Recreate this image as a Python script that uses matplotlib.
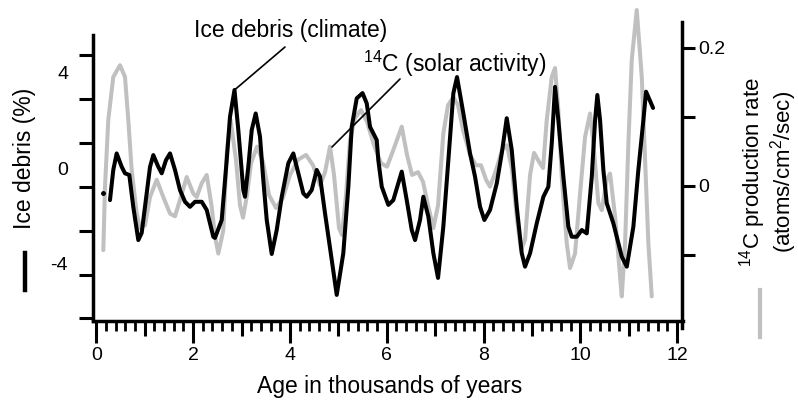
import matplotlib
matplotlib.use("Agg")
import matplotlib.pyplot as plt
from matplotlib.lines import Line2D
from matplotlib.ticker import FixedLocator, FuncFormatter

plt.rcParams['font.family'] = ['Liberation Sans', 'DejaVu Sans']
plt.rcParams['mathtext.fontset'] = 'custom'
plt.rcParams['mathtext.rm'] = 'Liberation Sans'
plt.rcParams['mathtext.it'] = 'Liberation Sans:italic'
plt.rcParams['axes.unicode_minus'] = False

# Ice-rafted debris (%), age in thousands of years
debris_age = [0.283, 0.351, 0.421, 0.525, 0.593, 0.682, 0.764, 0.868, 0.938, 1.006,
              1.110, 1.178, 1.281, 1.351, 1.440, 1.523, 1.626, 1.729, 1.833, 1.936,
              2.039, 2.178, 2.281, 2.417, 2.452, 2.591, 2.694, 2.762, 2.855, 2.934,
              3.037, 3.072, 3.140, 3.211, 3.293, 3.382, 3.450, 3.521, 3.624, 3.727,
              3.831, 3.967, 4.070, 4.174, 4.277, 4.347, 4.450, 4.554, 4.622, 4.725,
              4.864, 4.967, 5.103, 5.207, 5.277, 5.380, 5.500, 5.587, 5.655, 5.793,
              5.826, 5.897, 6.033, 6.136, 6.310, 6.413, 6.517, 6.585, 6.688, 6.756,
              6.860, 6.963, 7.060, 7.169, 7.273, 7.376, 7.452, 7.583, 7.721, 7.824,
              7.928, 8.017, 8.134, 8.273, 8.376, 8.479, 8.583, 8.686, 8.789, 8.857,
              8.961, 9.099, 9.236, 9.339, 9.409, 9.477, 9.545, 9.649, 9.752, 9.822,
              9.926, 10.029, 10.132, 10.236, 10.304, 10.351, 10.407, 10.475, 10.545, 10.682,
              10.855, 10.959, 11.095, 11.198, 11.302, 11.357, 11.502]
debris_pct = [-1.34, -0.08, 0.61, 0.05, -0.22, -0.29, -1.62, -3.01, -2.71, -1.62,
              0.05, 0.54, 0.05, -0.22, 0.33, 0.61, -0.08, -0.92, -1.41, -1.62,
              -1.41, -1.41, -1.75, -2.87, -2.92, -2.17, 0.33, 2.14, 3.26, 1.59,
              -0.92, -1.20, 0.05, 1.59, 2.28, 1.31, -0.50, -2.17, -3.59, -2.59,
              -1.20, 0.20, 0.61, -0.22, -1.06, -1.20, -0.92, -0.08, -0.36, -1.89,
              -3.84, -5.30, -3.56, -0.78, 1.72, 2.91, 3.13, 2.70, 1.72, 1.17,
              0.33, -0.78, -1.54, -1.34, -0.15, -1.34, -2.59, -3.01, -2.17, -1.20,
              -2.03, -3.56, -4.59, -2.45, 0.33, 3.12, 3.80, 2.28, 0.61, -0.36,
              -1.62, -2.17, -1.75, -0.64, 0.61, 2.08, 0.75, -1.62, -3.56, -4.12,
              -3.56, -2.31, -1.20, -0.78, 1.03, 3.39, 2.00, -0.36, -2.45, -2.87,
              -2.87, -2.59, -2.73, -0.36, 2.00, 3.05, 2.00, -0.08, -1.47, -2.31,
              -3.70, -4.12, -2.45, -0.08, 2.00, 3.19, 2.51]
debris_dot_age = [0.145]
debris_dot_pct = [-1.06]

# 14C production rate (atoms/cm2/sec)
c14_age = [0.145, 0.180, 0.248, 0.351, 0.490, 0.593, 0.661, 0.731, 0.835, 0.903,
           1.006, 1.110, 1.248, 1.384, 1.523, 1.626, 1.729, 1.868, 2.004, 2.074,
           2.178, 2.281, 2.384, 2.452, 2.521, 2.624, 2.694, 2.773, 2.886, 2.969,
           3.031, 3.114, 3.196, 3.320, 3.444, 3.568, 3.713, 3.857, 4.002, 4.167,
           4.333, 4.477, 4.622, 4.725, 4.828, 4.911, 5.014, 5.076, 5.159, 5.242,
           5.345, 5.469, 5.593, 5.738, 5.882, 6.006, 6.151, 6.310, 6.419, 6.523,
           6.647, 6.750, 6.853, 6.963, 7.060, 7.169, 7.266, 7.376, 7.473, 7.576,
           7.721, 7.845, 7.948, 8.052, 8.134, 8.258, 8.382, 8.486, 8.589, 8.692,
           8.775, 8.857, 8.961, 9.043, 9.147, 9.229, 9.306, 9.409, 9.477, 9.545,
           9.616, 9.719, 9.787, 9.890, 9.994, 10.097, 10.200, 10.269, 10.372, 10.442,
           10.545, 10.614, 10.717, 10.820, 10.855, 10.924, 10.992, 11.062, 11.165, 11.269,
           11.337, 11.405, 11.475]
c14_rate = [-0.093, -0.001, 0.096, 0.158, 0.175, 0.158, 0.096, 0.023, -0.040, -0.061,
            -0.057, -0.016, 0.009, -0.016, -0.040, -0.044, -0.020, 0.013, -0.011, -0.016,
            0.004, 0.016, -0.030, -0.073, -0.098, -0.064, 0.047, 0.096, 0.038, -0.028,
            -0.046, -0.013, 0.033, 0.057, 0.035, -0.013, -0.032, -0.017, 0.016, 0.038,
            0.045, 0.030, 0.001, 0.020, 0.057, 0.016, -0.061, -0.071, -0.013, 0.067,
            0.099, 0.110, 0.093, 0.059, 0.033, 0.028, 0.055, 0.086, 0.045, 0.016,
            0.020, 0.006, -0.028, -0.061, -0.028, 0.076, 0.117, 0.129, 0.117, 0.081,
            0.045, 0.030, 0.030, 0.009, -0.001, 0.023, 0.052, 0.059, 0.023, -0.049,
            -0.093, -0.078, 0.016, 0.048, 0.035, 0.026, 0.096, 0.158, 0.171, 0.110,
            0.013, -0.083, -0.119, -0.098, -0.011, 0.071, 0.105, 0.062, -0.025, -0.035,
            0.009, 0.018, -0.044, -0.131, -0.160, -0.083, 0.062, 0.183, 0.255, 0.158,
            0.038, -0.083, -0.160]

# Axis ticks and labels
age_ticks = list(range(0, 13))
age_minor = [i * 0.2 for i in range(0, 61)]
debris_labels = [4, 0, -4]
debris_ticks = [4.72, 2.88, 1.04, -0.78, -2.61, -4.45, -6.28]
rate_labels = [0.2, 0, -0.2]
rate_ticks = [0.1, -0.1]

W, H = 798, 401
fig = plt.figure(figsize=(W / 100, H / 100), dpi=100)
ax = fig.add_axes([93 / W, 80 / H, (682.5 - 93) / W, (396 - 80) / H])
ax2 = ax.twinx()

BLACK = '#000000'
GREY = '#c0c0c0'
LW_SP = 2.5

# grey 14C curve on the right-hand axis
ax2.plot(c14_age, c14_rate, color=GREY, lw=2.9, solid_joinstyle='round',
         solid_capstyle='round')
# black debris curve on the left-hand axis, drawn above
ax.plot(debris_age, debris_pct, color=BLACK, lw=2.9, solid_joinstyle='round',
        solid_capstyle='round')
ax.plot(debris_dot_age, debris_dot_pct, 'o', color=BLACK, ms=2.5)
ax.set_zorder(ax2.get_zorder() + 1)
ax.patch.set_visible(False)

ax.set_xlim(-0.068, 12.11)
ax.set_ylim(-6.39, 6.81)
ax2.set_ylim(-0.1957, 0.2623)

# spines
for s in ('top', 'right'):
    ax.spines[s].set_visible(False)
for s in ('top', 'left', 'bottom'):
    ax2.spines[s].set_visible(False)
ax.spines['left'].set_linewidth(LW_SP)
ax.spines['bottom'].set_linewidth(LW_SP)
ax2.spines['right'].set_linewidth(LW_SP)
ax.spines['left'].set_bounds(-6.39, 5.55)
ax2.spines['right'].set_bounds(-0.206, 0.2377)

# x axis: long ticks at even ages, medium at odd, short every 0.2
ax.xaxis.set_major_locator(FixedLocator(age_ticks))
ax.xaxis.set_minor_locator(FixedLocator(age_minor))
ax.xaxis.set_major_formatter(FuncFormatter(
    lambda v, p: f"{int(round(v))}" if int(round(v)) % 2 == 0 else ""))
ax.tick_params(axis='x', which='major', direction='out', length=16, width=2.2,
               labelsize=14, pad=3)
ax.tick_params(axis='x', which='minor', direction='out', length=7, width=2.0)
for t, loc in zip(ax.xaxis.get_major_ticks(len(age_ticks)), age_ticks):
    if loc % 2 == 1:
        t.tick1line.set_markersize(11)

# left axis
ax.yaxis.set_major_locator(FixedLocator(debris_labels))
ax.yaxis.set_minor_locator(FixedLocator(debris_ticks))
ax.yaxis.set_major_formatter(FuncFormatter(lambda v, p: f"{int(round(v))}"))
ax.tick_params(axis='y', which='major', length=0, labelsize=14, pad=18)
ax.tick_params(axis='y', which='minor', direction='out', length=10, width=2.2)

# right axis
ax2.yaxis.set_major_locator(FixedLocator(rate_labels))
ax2.yaxis.set_minor_locator(FixedLocator(rate_ticks))
ax2.yaxis.set_major_formatter(FuncFormatter(
    lambda v, p: "0" if abs(v) < 1e-9 else f"{v:.1f}"))
ax2.tick_params(axis='y', which='both', direction='out', length=9, width=2.2,
                labelsize=14, pad=2)

# axis titles
fig.text(24 / W, (H - 158) / H, 'Ice debris (%)', rotation=90, ha='center',
         va='center', fontsize=16.5)
fig.text(768 / W, (H - 172) / H, '$^{14}$C production rate\n(atoms/cm$^{2}$/sec)',
         rotation=90, ha='center', va='center', multialignment='center',
         fontsize=16, linespacing=1.0)
fig.text(390 / W, 8 / H, 'Age in thousands of years', ha='center',
         va='baseline', fontsize=16.5)

# series keys next to the axis titles
fig.add_artist(Line2D([25 / W, 25 / W], [(H - 253) / H, (H - 290) / H],
                      color=BLACK, lw=3.2, transform=fig.transFigure))
fig.add_artist(Line2D([760 / W, 760 / W], [(H - 290) / H, (H - 337) / H],
                      color=GREY, lw=3.0, transform=fig.transFigure))

# callouts
fig.text(290.5 / W, (H - 37) / H, 'Ice debris (climate)', ha='center',
         va='baseline', fontsize=16.5)
fig.text(455 / W, (H - 72) / H, '$^{14}$C (solar activity)', ha='center',
         va='baseline', fontsize=16.5)
ax.annotate('', xy=(debris_age[28], debris_pct[28]), xycoords='data',
            xytext=(285, H - 47), textcoords='figure pixels',
            arrowprops=dict(arrowstyle='-', lw=1.2, color=BLACK,
                            shrinkA=0, shrinkB=0))
ax2.annotate('', xy=(4.87, 0.0565), xycoords='data',
             xytext=(400, H - 79), textcoords='figure pixels',
             arrowprops=dict(arrowstyle='-', lw=1.2, color=BLACK,
                             shrinkA=0, shrinkB=0))

fig.savefig('out.png', dpi=100)
